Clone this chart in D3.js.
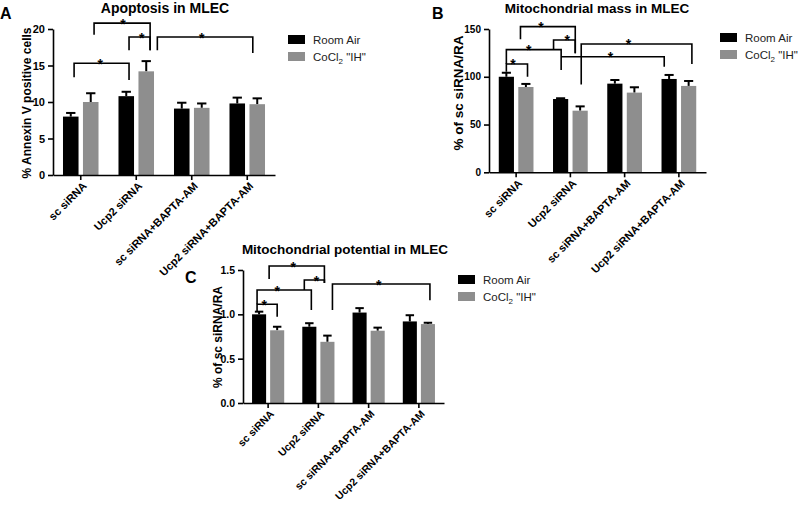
<!DOCTYPE html>
<html>
<head>
<meta charset="utf-8">
<script src="https://cdn.jsdelivr.net/npm/d3@7/dist/d3.min.js"></script>
<style>
  html, body { margin: 0; padding: 0; background: #fff; }
  svg { display: block; font-family: Arial, "Liberation Sans", Helvetica, sans-serif; }
</style>
</head>
<body>
<svg id="chart" width="800" height="505"></svg>
<script>
// ---------------- DATA ----------------
const categories = ["sc siRNA", "Ucp2 siRNA", "sc siRNA+BAPTA-AM", "Ucp2 siRNA+BAPTA-AM"];
const seriesNames = ["Room Air", "CoCl_2 \"IH\""];

// Panel A: Apoptosis in MLEC (% Annexin V positive cells)
const apoptosisRA    = [8.0, 10.8, 9.1, 9.8];
const apoptosisRAErr = [0.5, 0.6, 0.8, 0.8];
const apoptosisIH    = [10.0, 14.2, 9.2, 9.7];
const apoptosisIHErr = [1.2, 1.4, 0.6, 0.8];
const apoptosisTicks = [0, 5, 10, 15, 20];

// Panel B: Mitochondrial mass in MLEC (% of sc siRNA/RA)
const massRA    = [100, 76.7, 92.8, 97.7];
const massRAErr = [4.2, 0.8, 3.8, 4.2];
const massIH    = [89.3, 64.5, 83.4, 90.4];
const massIHErr = [3.2, 4.5, 5.6, 5.2];
const massTicks = [0, 50, 100, 150];

// Panel C: Mitochondrial potential in MLEC (% of sc siRNA/RA)
const potentialRA    = [1.0, 0.86, 1.02, 0.92];
const potentialRAErr = [0.03, 0.04, 0.05, 0.07];
const potentialIH    = [0.82, 0.69, 0.815, 0.89];
const potentialIHErr = [0.04, 0.07, 0.035, 0.015];
const potentialTicks = [0, 0.5, 1.0, 1.5];

// Significance brackets: [group1, offset1, group2, offset2, lineValue, leg1Bottom, leg2Bottom, starGroup, starOffset]
const apoptosisBrackets = [
  [0, -0.12, 1, -0.13, 15.3, 13.4, 13.0, 0, 0.35],
  [0,  0.24, 1,  0.25, 20.8, 19.2, 17.1, 0, 0.76],
  [1, -0.13, 1,  0.25, 18.9, 17.1, 17.1, 1, 0.10],
  [1,  0.38, 3,  0.10, 18.9, 17.1, 16.7, 2, 0.18]
];
const massBrackets = [
  [0, -0.18, 0,  0.21, 113.4, 105.3, 100.0, 0, -0.06],
  [0, -0.18, 1, -0.17, 128.4, 113.4, 107.0, 0,  0.23],
  [0,  0.08, 1,  0.09, 152.5, 139.3, 124.6, 0,  0.46],
  [1, -0.31, 1,  0.09, 138.5, 128.0, 124.6, 1, -0.06],
  [1, -0.17, 3, -0.27, 121.0, 121.0, 110.6, 2, -0.26],
  [1,  0.20, 3,  0.24, 134.3,  92.0, 113.4, 2,  0.07]
];
const potentialBrackets = [
  [0, -0.22, 0,  0.18, 1.113, 1.03, 0.973, 0, -0.08],
  [0, -0.22, 1, -0.14, 1.274, 1.113, 1.049, 0, 0.18],
  [0,  0.02, 1,  0.12, 1.545, 1.398, 1.353, 0, 0.50],
  [1, -0.28, 1,  0.12, 1.387, 1.274, 1.353, 1, -0.04],
  [1,  0.28, 3,  0.22, 1.342, 1.049, 1.16, 2, 0.20]
];

// ---------------- DRAWING ----------------
const svg = d3.select("#chart");
const colors = ["#000000", "#8e8e8e"];

function drawPanel(cfg) {
  const g = svg.append("g");
  const x = d3.scaleBand().domain(d3.range(categories.length)).range(cfg.xr);
  const y = d3.scaleLinear().domain(cfg.yd).range(cfg.yr);
  const bw = x.bandwidth();
  const barW = bw * 0.28, gap = bw * 0.08;
  const cx = i => x(i) + bw / 2;
  const pos = (gi, off) => cx(gi) + off * bw;

  const series = [
    { vals: cfg.ra, errs: cfg.raErr, color: colors[0], dx: -gap / 2 - barW },
    { vals: cfg.ih, errs: cfg.ihErr, color: colors[1], dx: gap / 2 }
  ];

  series.forEach(s => {
    const data = s.vals.map((v, i) => ({ v, e: s.errs[i], i }));
    g.selectAll(null).data(data).enter().append("line")
      .attr("x1", d => cx(d.i) + s.dx + barW / 2)
      .attr("x2", d => cx(d.i) + s.dx + barW / 2)
      .attr("y1", d => y(d.v))
      .attr("y2", d => y(d.v + d.e))
      .attr("stroke", "#000").attr("stroke-width", 2);
    g.selectAll(null).data(data).enter().append("line")
      .attr("x1", d => cx(d.i) + s.dx + barW * 0.2)
      .attr("x2", d => cx(d.i) + s.dx + barW * 0.8)
      .attr("y1", d => y(d.v + d.e))
      .attr("y2", d => y(d.v + d.e))
      .attr("stroke", "#000").attr("stroke-width", 2);
    g.selectAll(null).data(data).enter().append("rect")
      .attr("x", d => cx(d.i) + s.dx)
      .attr("y", d => y(d.v))
      .attr("width", barW)
      .attr("height", d => y(0) - y(d.v))
      .attr("fill", s.color);
  });

  // y axis
  const ya = g.append("g")
    .attr("transform", `translate(${cfg.xr[0]},0)`)
    .call(d3.axisLeft(y).tickValues(cfg.ticks).tickSize(5).tickSizeOuter(0).tickPadding(3).tickFormat(cfg.fmt));
  ya.select(".domain").attr("stroke-width", 1.6);
  ya.selectAll(".tick line").attr("stroke-width", 1.6);
  ya.selectAll("text").attr("font-size", cfg.tickFont).attr("font-weight", "bold").attr("fill", "#000")
    .attr("font-family", "Arial, 'Liberation Sans', sans-serif");

  // x axis
  const xa = g.append("g")
    .attr("transform", `translate(0,${cfg.yr[0]})`)
    .call(d3.axisBottom(x).tickSize(5).tickSizeOuter(0).tickFormat(""));
  xa.select(".domain").attr("stroke-width", 1.6);
  xa.selectAll(".tick line").attr("stroke-width", 1.6);

  g.selectAll(null).data(categories).enter().append("text")
    .attr("transform", (d, i) => `translate(${cx(i) + 4},${cfg.yr[0] + 9}) rotate(-45)`)
    .attr("text-anchor", "end")
    .attr("dy", "0.35em")
    .attr("font-size", cfg.xFont).attr("font-weight", "bold")
    .text(d => d);

  // y label
  g.append("text")
    .attr("transform", `translate(${cfg.ylabX},${cfg.ylabY}) rotate(-90)`)
    .attr("text-anchor", "middle")
    .attr("font-size", cfg.ylabFont).attr("font-weight", "bold")
    .text(cfg.ylabel);

  // title
  g.append("text")
    .attr("x", cfg.titleX).attr("y", cfg.titleY)
    .attr("text-anchor", "middle")
    .attr("font-size", cfg.titleFont).attr("font-weight", "bold")
    .text(cfg.title);

  // panel letter
  g.append("text")
    .attr("x", cfg.letterX).attr("y", cfg.letterY)
    .attr("font-size", 16).attr("font-weight", "bold")
    .text(cfg.letter);

  // brackets
  cfg.brackets.forEach(b => {
    const [g1, o1, g2, o2, yl, y1, y2, sg, so] = b;
    const x1 = pos(g1, o1), x2 = pos(g2, o2);
    g.append("path")
      .attr("d", `M${x1},${y(y1)}V${y(yl)}H${x2}V${y(y2)}`)
      .attr("fill", "none").attr("stroke", "#000").attr("stroke-width", 1.6);
    g.append("text")
      .attr("x", pos(sg, so)).attr("y", y(yl) + 5.5)
      .attr("text-anchor", "middle")
      .attr("font-size", 14).attr("font-weight", "bold")
      .text("*");
  });

  // legend
  const lg = g.append("g").attr("transform", `translate(${cfg.legX},${cfg.legY})`);
  seriesNames.forEach((name, i) => {
    lg.append("rect").attr("x", 0).attr("y", i * 17).attr("width", 17).attr("height", 9)
      .attr("fill", colors[i]);
    const t = lg.append("text").attr("x", 25).attr("y", i * 17 + 8.5)
      .attr("font-size", 11.5).attr("fill", "#222");
    const parts = name.split("_");
    t.append("tspan").text(parts[0]);
    if (parts.length > 1) {
      t.append("tspan").attr("dy", 3).attr("font-size", 8).text(parts[1].charAt(0));
      t.append("tspan").attr("dy", -3).text(parts[1].slice(1));
    }
  });
}

drawPanel({
  xr: [53, 275], yd: [0, 20], yr: [175, 29],
  ra: apoptosisRA, raErr: apoptosisRAErr, ih: apoptosisIH, ihErr: apoptosisIHErr,
  ticks: apoptosisTicks, fmt: d3.format("d"), tickFont: 11, xFont: 11,
  ylabel: "% Annexin V positive cells", ylabX: 30.5, ylabY: 103, ylabFont: 12,
  title: "Apoptosis in MLEC", titleX: 165, titleY: 13, titleFont: 14,
  letter: "A", letterX: 0, letterY: 19,
  brackets: apoptosisBrackets, legX: 288, legY: 35
});

drawPanel({
  xr: [489, 706], yd: [0, 150], yr: [172.3, 29],
  ra: massRA, raErr: massRAErr, ih: massIH, ihErr: massIHErr,
  ticks: massTicks, fmt: d3.format("d"), tickFont: 10, xFont: 11,
  ylabel: "% of sc siRNA/RA", ylabX: 463, ylabY: 93, ylabFont: 13.5,
  title: "Mitochondrial mass in MLEC", titleX: 597, titleY: 13, titleFont: 13.5,
  letter: "B", letterX: 432, letterY: 19,
  brackets: massBrackets, legX: 720, legY: 33
});

drawPanel({
  xr: [243, 444], yd: [0, 1.5], yr: [403, 270],
  ra: potentialRA, raErr: potentialRAErr, ih: potentialIH, ihErr: potentialIHErr,
  ticks: potentialTicks, fmt: d3.format(".1f"), tickFont: 10.5, xFont: 10.5,
  ylabel: "% of sc siRNA/RA", ylabX: 221.5, ylabY: 337, ylabFont: 12,
  title: "Mitochondrial potential in MLEC", titleX: 345, titleY: 254, titleFont: 13.5,
  letter: "C", letterX: 185, letterY: 283,
  brackets: potentialBrackets, legX: 458, legY: 275
});
</script>
</body>
</html>
